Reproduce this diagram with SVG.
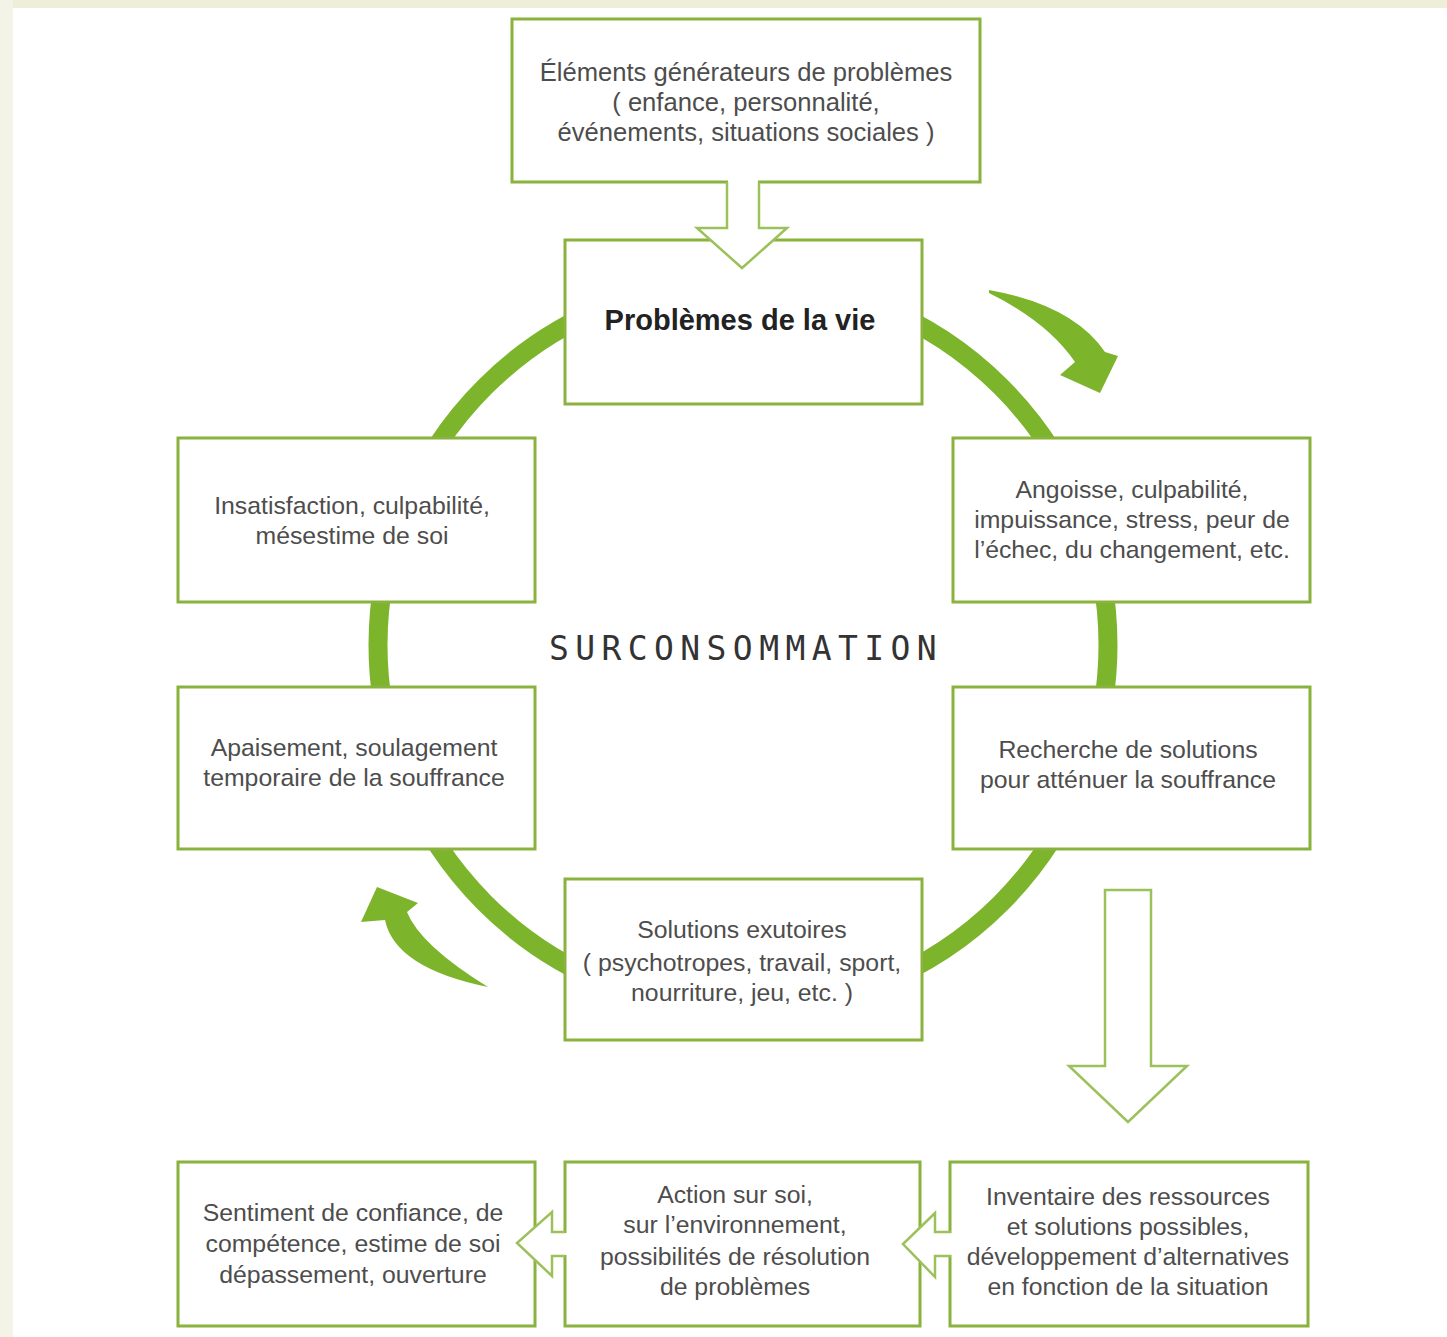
<svg xmlns="http://www.w3.org/2000/svg" width="1447" height="1337" viewBox="0 0 1447 1337">
<style>
.box{fill:#fff;stroke:#8ab23f;stroke-width:3}
.t{font-family:"Liberation Sans",Arial,sans-serif;font-size:24.8px;fill:#4d4d4d;text-anchor:middle}
.tt{font-size:25.6px}
.b{font-family:"Liberation Sans",Arial,sans-serif;font-size:29px;font-weight:bold;fill:#222;text-anchor:middle}
.m{font-family:"DejaVu Sans Mono",monospace;font-size:33px;fill:#333;text-anchor:middle;letter-spacing:6.4px}
.ha{fill:#fff;stroke:#9cc15a;stroke-width:2.5}
.ga{fill:#7cb42c}
</style>
<rect x="0" y="0" width="1447" height="1337" fill="#fff"/>
<rect x="0" y="0" width="1447" height="8" fill="#efeed8"/>
<rect x="0" y="0" width="13" height="1337" fill="#f4f3e7"/>
<g id="connectors">
<circle cx="743" cy="645" r="365" fill="none" stroke="#7cb42c" stroke-width="19"/>
<path class="ga" d="M989,290 Q1073,305 1105,352 L1118,356 L1100,393 L1060,375 L1075,362 Q1048,322 989,293 Z"/>
<path class="ga" d="M488,987 Q395,968 385,920 L361,922 L377,887 L418,903 L407,912 Q420,945 488,987 Z"/>
</g>
<g id="n1"><rect class="box" x="512" y="19" width="468" height="163"/>
<text class="t tt" x="746" y="81">Éléments générateurs de problèmes</text>
<text class="t tt" x="746" y="111">( enfance, personnalité,</text>
<text class="t tt" x="746" y="141">événements, situations sociales )</text></g>
<g id="n2"><rect class="box" x="565" y="240" width="357" height="164"/>
<text class="b" x="740" y="330">Problèmes de la vie</text></g>
<g id="n3"><rect class="box" x="178" y="438" width="357" height="164"/>
<text class="t" x="352" y="514">Insatisfaction, culpabilité,</text>
<text class="t" x="352" y="544">mésestime de soi</text></g>
<g id="n4"><rect class="box" x="953" y="438" width="357" height="164"/>
<text class="t" x="1132" y="498">Angoisse, culpabilité,</text>
<text class="t" x="1132" y="528">impuissance, stress, peur de</text>
<text class="t" x="1132" y="558">l’échec, du changement, etc.</text></g>
<g id="n5"><rect class="box" x="178" y="687" width="357" height="162"/>
<text class="t" x="354" y="756">Apaisement, soulagement</text>
<text class="t" x="354" y="786">temporaire de la souffrance</text></g>
<g id="n6"><rect class="box" x="953" y="687" width="357" height="162"/>
<text class="t" x="1128" y="758">Recherche de solutions</text>
<text class="t" x="1128" y="788">pour atténuer la souffrance</text></g>
<g id="n7"><rect class="box" x="565" y="879" width="357" height="161"/>
<text class="t" x="742" y="938">Solutions exutoires</text>
<text class="t" x="742" y="971">( psychotropes, travail, sport,</text>
<text class="t" x="742" y="1001">nourriture, jeu, etc. )</text></g>
<g id="center"><text class="m" x="746" y="660">SURCONSOMMATION</text></g>
<g id="n8"><rect class="box" x="178" y="1162" width="357" height="164"/>
<text class="t" x="353" y="1221">Sentiment de confiance, de</text>
<text class="t" x="353" y="1252">compétence, estime de soi</text>
<text class="t" x="353" y="1283">dépassement, ouverture</text></g>
<g id="n9"><rect class="box" x="565" y="1162" width="355" height="164"/>
<text class="t" x="735" y="1203">Action sur soi,</text>
<text class="t" x="735" y="1233">sur l’environnement,</text>
<text class="t" x="735" y="1265">possibilités de résolution</text>
<text class="t" x="735" y="1295">de problèmes</text></g>
<g id="n10"><rect class="box" x="950" y="1162" width="358" height="164"/>
<text class="t" x="1128" y="1205">Inventaire des ressources</text>
<text class="t" x="1128" y="1235">et solutions possibles,</text>
<text class="t" x="1128" y="1265">développement d’alternatives</text>
<text class="t" x="1128" y="1295">en fonction de la situation</text></g>
<g id="arrows">
<rect x="728" y="179" width="30" height="6" fill="#fff"/>
<polyline class="ha" points="727,182 727,228 697,228 742,268 787,228 759,228 759,182"/>
<polygon class="ha" points="1105,890 1151,890 1151,1066 1187,1066 1128,1122 1069,1066 1105,1066"/>
<rect x="562" y="1233" width="6" height="22" fill="#fff"/>
<polyline class="ha" points="565,1232 552,1232 552,1212 517,1243 552,1276 552,1256 565,1256"/>
<rect x="948" y="1233" width="6" height="22" fill="#fff"/>
<polyline class="ha" points="951,1232 935,1232 935,1213 903,1244 935,1277 935,1256 951,1256"/>
</g>
</svg>
